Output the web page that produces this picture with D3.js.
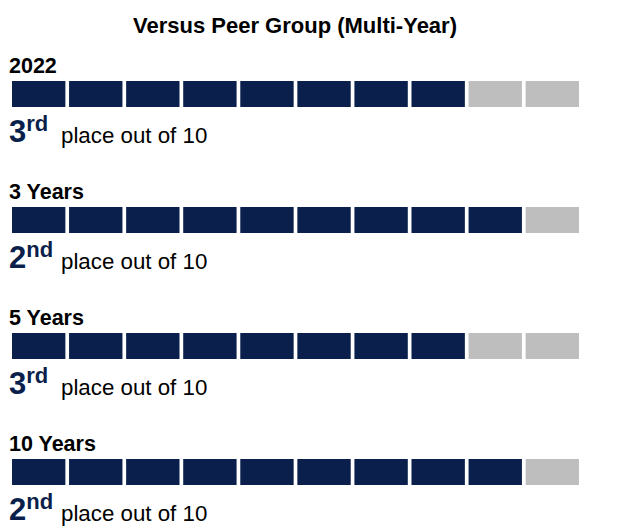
<!DOCTYPE html>
<html>
<head>
<meta charset="utf-8">
<script src="https://cdn.jsdelivr.net/npm/d3@7"></script>
<style>
  body { margin: 0; background: #fff; }
  text { font-family: "Liberation Sans", Arial, sans-serif; }
</style>
</head>
<body>
<div id="chart"></div>
<script>
const w = 620;
const h = 532;

// periods shown, with the rank in the peer group
const periods = ["2022", "3 Years", "5 Years", "10 Years"];
const ranks = [3, 2, 3, 2];
const suffixes = ["rd", "nd", "rd", "nd"];
const peerCount = 10;
const slots = d3.range(peerCount);

const navy = "#0a1f4b";
const grey = "#bebebe";

const svg = d3.select("#chart")
  .append("svg")
  .attr("width", w)
  .attr("height", h);

svg.append("text")
  .attr("x", 295)
  .attr("y", 33)
  .attr("text-anchor", "middle")
  .attr("font-size", 22)
  .attr("font-weight", "bold")
  .attr("fill", "#000")
  .text("Versus Peer Group (Multi-Year)");

const x = d3.scaleBand()
  .domain(slots)
  .range([12, 579])
  .paddingInner(0.065)
  .paddingOuter(0);

const rowY = d3.scaleBand()
  .domain(periods)
  .range([81, 81 + 126 * 4]);

const rows = svg.selectAll("g.row")
  .data(periods.map((p, i) => ({period: p, rank: ranks[i], suffix: suffixes[i]})))
  .enter()
  .append("g")
  .attr("class", "row")
  .attr("transform", d => `translate(0,${rowY(d.period)})`);

rows.append("text")
  .attr("x", 9)
  .attr("y", -8)
  .attr("font-size", 21.5)
  .attr("font-weight", "bold")
  .attr("fill", "#000")
  .text(d => d.period);

// filled cells = count - rank + 1
rows.selectAll("rect")
  .data(d => slots.map(s => ({s: s, filled: s < peerCount - d.rank + 1})))
  .enter()
  .append("rect")
  .attr("x", d => x(d.s))
  .attr("y", 0)
  .attr("width", x.bandwidth())
  .attr("height", 26)
  .attr("fill", d => d.filled ? navy : grey);

const rankText = rows.append("text")
  .attr("x", 9)
  .attr("y", 61)
  .attr("fill", navy)
  .attr("font-weight", "bold");

rankText.append("tspan")
  .attr("font-size", 31)
  .text(d => d.rank);

rankText.append("tspan")
  .attr("font-size", 22)
  .attr("dy", -11)
  .text(d => d.suffix);

rows.append("text")
  .attr("x", 61)
  .attr("y", 62)
  .attr("font-size", 22.3)
  .attr("fill", "#000")
  .text("place out of " + peerCount);
</script>
</body>
</html>
